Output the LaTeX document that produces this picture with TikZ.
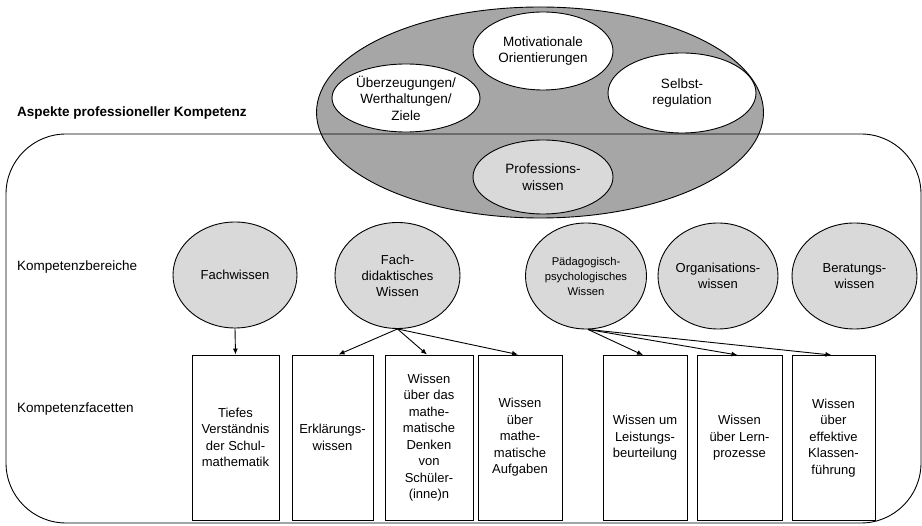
\documentclass[tikz,border=0pt]{standalone}
\usepackage{fontspec}
\setmainfont{Liberation Sans}
\usetikzlibrary{shapes.geometric,arrows.meta}
\definecolor{darkg}{HTML}{A6A6A6}
\definecolor{lightg}{HTML}{D9D9D9}
\tikzset{
  ln/.style={line width=0.9pt, draw=black},
  bigell/.style={ln, ellipse, fill=darkg, inner sep=0pt},
  whiteell/.style={ln, ellipse, fill=white, inner sep=0pt, align=center, font=\fontsize{13.5}{16.5}\selectfont},
  greyell/.style={ln, ellipse, fill=lightg, inner sep=0pt, align=center, font=\fontsize{13}{16}\selectfont, minimum width=123pt, minimum height=106pt},
  facet/.style={ln, rectangle, fill=white, inner sep=0pt, align=center, font=\fontsize{13}{16.5}\selectfont, minimum width=85pt, minimum height=165pt},
  lbl/.style={anchor=base west, inner sep=0pt, font=\fontsize{13.5}{16}\selectfont},
  arr/.style={ln, -{Latex[length=6pt,width=5pt]}}
}
\begin{document}
\begin{tikzpicture}[x=1pt,y=-1pt]
\useasboundingbox (0,0) rectangle (922,526);
% big ellipse
\node[bigell, minimum width=447pt, minimum height=211pt] (big) at (540,112.5) {};
% rounded frame
\draw[ln, rounded corners=60pt] (6,134) rectangle (921,523);
% inner ellipses
\node[whiteell, minimum width=140pt, minimum height=78pt] (mot) at (543,51) {Motivationale\\Orientierungen};
\node[whiteell, minimum width=148pt, minimum height=68pt] (ueb) at (406,98) {Überzeugungen/\\Werthaltungen/\\Ziele};
\node[whiteell, minimum width=148pt, minimum height=80pt] (sel) at (682,93) {Selbst-\\regulation};
\node[whiteell, fill=lightg, minimum width=140pt, minimum height=74pt] (prof) at (543,177) {Professions-\\wissen};
% labels
\node[lbl, font=\fontsize{13.5}{16}\selectfont\bfseries] (asp) at (17,117) {Aspekte professioneller Kompetenz};
\node[lbl] (kb) at (17,271) {Kompetenzbereiche};
\node[lbl] (kf) at (17,413) {Kompetenzfacetten};
% Kompetenzbereiche
\node[greyell, minimum width=124pt] (fw) at (235,275) {Fachwissen};
\node[greyell, minimum width=125pt] (fd) at (397.5,275.5) {Fach-\\didaktisches\\Wissen};
\node[greyell, minimum width=121pt, font=\fontsize{11.2}{15}\selectfont] (pp) at (586,276) {Pädagogisch-\\psychologisches\\Wissen};
\node[greyell, minimum width=120pt] (ow) at (718,276) {Organisations-\\wissen};
\node[greyell, minimum width=125pt] (bw) at (854.5,276) {Beratungs-\\wissen};
% facets
\node[facet, minimum width=87pt] (b1) at (235.5,437.5) {Tiefes\\Verständnis\\der Schul-\\mathematik};
\node[facet, minimum width=81pt] (b2) at (332.5,437.5) {Erklärungs-\\wissen};
\node[facet, minimum width=88pt] (b3) at (429,437.5) {Wissen\\über das\\mathe-\\matische\\Denken\\von\\Schüler-\\(inne)n};
\node[facet, minimum width=84pt] (b4) at (520,437.5) {Wissen\\über\\mathe-\\matische\\Aufgaben};
\node[facet, minimum width=84pt] (b5) at (645,438) {Wissen um\\Leistungs-\\beurteilung};
\node[facet, minimum width=85pt] (b6) at (739.5,438) {Wissen\\über Lern-\\prozesse};
\node[facet, minimum width=83pt] (b7) at (833.5,438) {Wissen\\über\\effektive\\Klassen-\\führung};
% arrows
\draw[arr] (fw.south) -- (b1.north);
\draw[arr] (fd.south) -- ([xshift=6pt]b2.north);
\draw[arr] (fd.south) -- ([xshift=-2pt]b3.north);
\draw[arr] (fd.south) -- ([xshift=-2pt]b4.north);
\draw[arr] ([xshift=2pt]pp.south) -- ([xshift=-2pt]b5.north);
\draw[arr] ([xshift=2pt]pp.south) -- ([xshift=-2pt]b6.north);
\draw[arr] ([xshift=2pt]pp.south) -- ([xshift=-2pt]b7.north);
\end{tikzpicture}
\end{document}
